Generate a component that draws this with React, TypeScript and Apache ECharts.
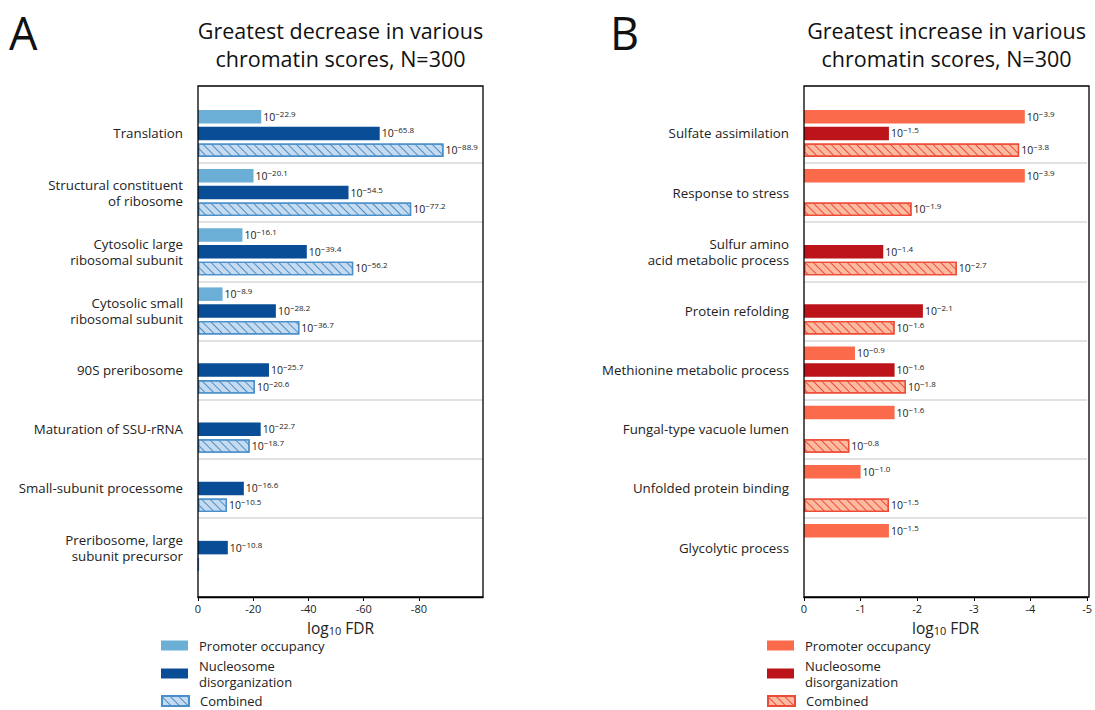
import React, { useEffect, useRef } from "react";
import * as echarts from "echarts";

const FONT = '"Open Sans", "DejaVu Sans", sans-serif';

const leftCategories = [
  "Translation",
  "Structural constituent\nof ribosome",
  "Cytosolic large\nribosomal subunit",
  "Cytosolic small\nribosomal subunit",
  "90S preribosome",
  "Maturation of SSU-rRNA",
  "Small-subunit processome",
  "Preribosome, large\nsubunit precursor",
];
const leftPromoter = [22.9, 20.1, 16.1, 8.9, null, null, null, null];
const leftNucleosome = [65.8, 54.5, 39.4, 28.2, 25.7, 22.7, 16.6, 10.8];
const leftCombined = [88.9, 77.2, 56.2, 36.7, 20.6, 18.7, 10.5, 0.3];

const rightCategories = [
  "Sulfate assimilation",
  "Response to stress",
  "Sulfur amino\nacid metabolic process",
  "Protein refolding",
  "Methionine metabolic process",
  "Fungal-type vacuole lumen",
  "Unfolded protein binding",
  "Glycolytic process",
];
const rightPromoter = [3.9, 3.9, null, null, 0.9, 1.6, 1.0, 1.5];
const rightNucleosome = [1.5, null, 1.4, 2.1, 1.6, null, null, null];
const rightCombined = [3.8, 1.9, 2.7, 1.6, 1.8, 0.8, 1.5, null];

const leftTicks = [0, 20, 40, 60, 80];
const leftMax = 103.2;
const rightMax = 5;
const legendLabels = ["Promoter occupancy", "Nucleosome\ndisorganization", "Combined"];
const titles = [
  "Greatest decrease in various\nchromatin scores, N=300",
  "Greatest increase in various\nchromatin scores, N=300",
];

const BLUE = { p: "#6baed6", n: "#084d96", cFill: "#c6dbef", cEdge: "#4a8fca" };
const RED = { p: "#fb6a4a", n: "#bc141a", cFill: "#fcbba1", cEdge: "#ee4b36" };

const PANEL = [
  { left: 198, width: 285 },
  { left: 804, width: 285 },
];
const FRAME_TOP = 86;
const FRAME_BOTTOM = 597;
const BAND_TOP = 103.8;
const BAND_BOTTOM = 577.2;

function labelCfg() {
  return {
    show: true,
    position: "right",
    distance: 2,
    formatter: (p: any) =>
      p.value == null || p.value < 0.5 ? "" : `{b|10}{s|\u2212${Number(p.value).toFixed(1)}}`,
    rich: {
      b: { fontSize: 10.5, fontFamily: FONT, color: "#222" },
      s: { fontSize: 8, fontFamily: FONT, color: "#222", padding: [0, 0, 7, 0] },
    },
  };
}

function bar(name: string, data: any[], axis: number, itemStyle: any) {
  return {
    type: "bar",
    name,
    data,
    xAxisIndex: axis,
    yAxisIndex: axis * 2,
    barWidth: 13.5,
    barGap: "24%",
    itemStyle,
    label: labelCfg(),
    emphasis: { disabled: true },
    silent: true,
  };
}

function hatch(c: any) {
  return {
    color: c.cFill,
    borderColor: c.cEdge,
    borderWidth: 1.3,
    decal: {
      symbol: "rect",
      symbolSize: 1,
      color: c.cEdge,
      dashArrayX: [1, 0],
      dashArrayY: [1, 4.6],
      rotation: Math.PI / 4,
    },
  };
}

function separators(axis: number, n: number) {
  return {
    type: "line",
    name: "sep" + axis,
    xAxisIndex: axis,
    yAxisIndex: axis * 2 + 1,
    data: [],
    silent: true,
    z: 1,
    markLine: {
      silent: true,
      symbol: "none",
      label: { show: false },
      lineStyle: { color: "#d9d9d9", width: 1.5, type: "solid" },
      data: Array.from({ length: n - 1 }, (_, i) => ({ yAxis: i + 1 })),
    },
  };
}

function xAxisCfg(grid: number, max: number, ticks: number[] | null) {
  const ax: any = {
    gridIndex: grid,
    type: "value",
    min: 0,
    max,
    position: "bottom",
    offset: FRAME_BOTTOM - BAND_BOTTOM,
    axisLine: { show: true, onZero: false, lineStyle: { color: "#000", width: 1.3 } },
    axisTick: { show: true, length: 4, lineStyle: { color: "#000", width: 1 } },
    axisLabel: {
      fontSize: 11,
      color: "#222",
      margin: 6,
      fontFamily: FONT,
      formatter: (v: number) => (v === 0 ? "0" : "-" + v),
    },
    splitLine: { show: false },
    name: "{a|log}{s|10}{a| FDR}",
    nameLocation: "middle",
    nameGap: 22.5,
    nameTextStyle: {
      rich: {
        a: { fontSize: 15.5, fontFamily: FONT, color: "#222", lineHeight: 17 },
        s: { fontSize: 11, fontFamily: FONT, color: "#222", padding: [4, 0, 0, 0] },
      },
    },
  };
  if (ticks) {
    ax.axisTick.customValues = ticks;
    ax.axisLabel.customValues = ticks;
  } else {
    ax.interval = 1;
  }
  return ax;
}

function yAxesCfg(grid: number, cats: string[]) {
  return [
    {
      gridIndex: grid,
      type: "category",
      data: cats,
      inverse: true,
      axisLine: { show: false },
      axisTick: { show: false },
      splitLine: { show: false },
      axisLabel: {
        fontSize: 13.3,
        lineHeight: 16,
        margin: 15,
        color: "#222",
        fontFamily: FONT,
        align: "right",
      },
    },
    {
      gridIndex: grid,
      type: "value",
      min: 0,
      max: cats.length,
      inverse: true,
      show: false,
    },
  ];
}

function legendCfg(series: string, idx: number, iconLeft: number) {
  const tops = [638.5, 657.5, 694];
  return {
    data: [series],
    left: iconLeft,
    top: tops[idx],
    orient: "vertical",
    padding: 0,
    icon: "rect",
    itemWidth: 27,
    itemHeight: 10,
    selectedMode: false,
    formatter: () => legendLabels[idx],
    textStyle: {
      fontSize: 13,
      lineHeight: idx === 1 ? 16 : 14,
      color: "#222",
      fontFamily: FONT,
      padding: [0, 0, 0, 6],
    },
  };
}

export default function App() {
  const ref = useRef<HTMLDivElement>(null);
  useEffect(() => {
    document.body.style.margin = "0";
    if (!ref.current) return;
    const chart = echarts.init(ref.current, null, { renderer: "svg" });
    const option: any = {
      animation: false,
      backgroundColor: "#fff",
      textStyle: { fontFamily: FONT },
      grid: PANEL.map((p) => ({
        left: p.left,
        width: p.width,
        top: BAND_TOP,
        bottom: 710 - BAND_BOTTOM,
      })),
      xAxis: [xAxisCfg(0, leftMax, leftTicks), xAxisCfg(1, rightMax, null)],
      yAxis: [...yAxesCfg(0, leftCategories), ...yAxesCfg(1, rightCategories)],
      legend: [
        legendCfg("L-P", 0, 161),
        legendCfg("L-N", 1, 161),
        legendCfg("L-C", 2, 161),
        legendCfg("R-P", 0, 767),
        legendCfg("R-N", 1, 767),
        legendCfg("R-C", 2, 767),
      ],
      series: [
        separators(0, leftCategories.length),
        separators(1, rightCategories.length),
        bar("L-P", leftPromoter, 0, { color: BLUE.p }),
        bar("L-N", leftNucleosome, 0, { color: BLUE.n }),
        bar("L-C", leftCombined, 0, hatch(BLUE)),
        bar("R-P", rightPromoter, 1, { color: RED.p }),
        bar("R-N", rightNucleosome, 1, { color: RED.n }),
        bar("R-C", rightCombined, 1, hatch(RED)),
      ],
      graphic: [
        ...PANEL.map((p) => ({
          type: "rect",
          silent: true,
          z: 100,
          shape: { x: p.left, y: FRAME_TOP, width: p.width, height: FRAME_BOTTOM - FRAME_TOP },
          style: { fill: "none", stroke: "#000", lineWidth: 1.3 },
        })),
        ...PANEL.map((p, i) => ({
          type: "text",
          silent: true,
          x: p.left + p.width / 2,
          y: 16,
          style: {
            text: titles[i],
            fontSize: 21.5,
            fontFamily: FONT,
            fill: "#111",
            align: "center",
            verticalAlign: "top",
            lineHeight: 28,
          },
        })),
        ...["A", "B"].map((t, i) => ({
          type: "text",
          silent: true,
          x: i === 0 ? 9 : 610,
          y: 55,
          style: {
            text: t,
            fontSize: 45,
            fontFamily: FONT,
            fill: "#111",
            align: "left",
            verticalAlign: "bottom",
          },
        })),
      ],
    };
    chart.setOption(option);
    return () => chart.dispose();
  }, []);
  return <div ref={ref} style={{ width: 1095, height: 710 }} />;
}
